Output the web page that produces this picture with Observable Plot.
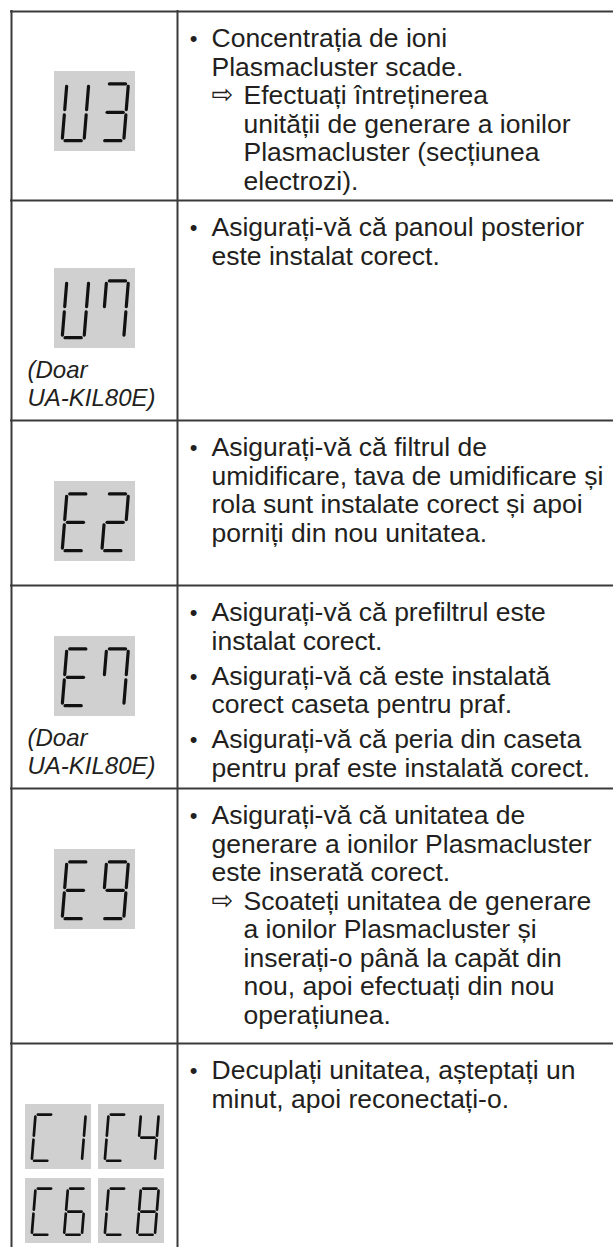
<!DOCTYPE html>
<html><head><meta charset="utf-8">
<script src="https://cdn.jsdelivr.net/npm/d3@7"></script>
<script src="https://cdn.jsdelivr.net/npm/@observablehq/plot@0.6"></script>
<style>html,body{margin:0;padding:0;background:#fff;overflow:hidden}#chart svg{display:block}</style>
</head><body><div id="chart"></div>
<script>
// ---- content ----
const codes = [["U3"], ["U7"], ["E2"], ["E7"], ["E9"], ["C1", "C4", "C6", "C8"]];
const notes = [[], ["(Doar", "UA-KIL80E)"], [], ["(Doar", "UA-KIL80E)"], [], []];
const descriptions = [
  [["•", ["Concentrația de ioni", "Plasmacluster scade."]],
   ["⇨", ["Efectuați întreținerea", "unității de generare a ionilor", "Plasmacluster (secțiunea", "electrozi)."]]],
  [["•", ["Asigurați-vă că panoul posterior", "este instalat corect."]]],
  [["•", ["Asigurați-vă că filtrul de", "umidificare, tava de umidificare și", "rola sunt instalate corect și apoi", "porniți din nou unitatea."]]],
  [["•", ["Asigurați-vă că prefiltrul este", "instalat corect."]],
   ["•", ["Asigurați-vă că este instalată", "corect caseta pentru praf."]],
   ["•", ["Asigurați-vă că peria din caseta", "pentru praf este instalată corect."]]],
  [["•", ["Asigurați-vă că unitatea de", "generare a ionilor Plasmacluster", "este inserată corect."]],
   ["⇨", ["Scoateți unitatea de generare", "a ionilor Plasmacluster și", "inserați-o până la capăt din", "nou, apoi efectuați din nou", "operațiunea."]]],
  [["•", ["Decuplați unitatea, așteptați un", "minut, apoi reconectați-o."]]]
];
// seven-segment glyph encoding
const SEG = {U: "bcdef", "3": "abcdg", "7": "abcf", E: "adefg", "2": "abdeg", "9": "abcdfg",
             C: "adef", "1": "bc", "4": "bcfg", "6": "acdefg", "8": "abcdefg"};

// ---- layout ----
const W = 613, H = 1247;
const tableLeft = 11, colDivider = 177, tableTop = 11;
const rowTop = [11, 200, 420, 585, 788, 1043];
const boxTop = [71, 268, 481, 636, 849, 1104];
const single = {x: 54, w: 81, h: 80};
const quad = {x: [25, 98], yStep: 74, w: 66, h: 65};
const textX = 211, bulletX = 193, arrowTextX = 243, noteX = 27;
const lineH = 28.5, itemGap = 6.5, firstLine = 27.5;

const boxes = [];
codes.forEach((list, i) => {
  if (list.length === 1) boxes.push({code: list[0], x1: single.x, x2: single.x + single.w, y1: boxTop[i], y2: boxTop[i] + single.h});
  else list.forEach((c, k) => {
    const x1 = quad.x[k % 2], y1 = boxTop[i] + Math.floor(k / 2) * quad.yStep;
    boxes.push({code: c, x1, x2: x1 + quad.w, y1, y2: y1 + quad.h});
  });
});

const ENDS = (g, gv) => ({
  a: [[g, 1], [1 - g, 1]], b: [[1, 1 - gv], [1, 0.5 + gv]], c: [[1, 0.5 - gv], [1, gv]],
  d: [[g, 0], [1 - g, 0]], e: [[0, 0.5 - gv], [0, gv]], f: [[0, 1 - gv], [0, 0.5 + gv]],
  g: [[g, 0.5], [1 - g, 0.5]]
});
const ends = ENDS(0.13, 0.045);
const segs = [];
boxes.forEach(b => {
  const bw = b.x2 - b.x1, bh = b.y2 - b.y1;
  const w = 0.27 * bw, h = 0.71 * bh, yb = b.y1 + 0.865 * bh, slant = 0.082;
  [...b.code].forEach((ch, j) => {
    const x0 = b.x1 + (j === 0 ? 0.095 : 0.585) * bw;
    const P = ([u, v]) => [x0 + u * w + v * h * slant, yb - v * h];
    for (const s of SEG[ch]) {
      const [p, q] = ends[s].map(P);
      segs.push({x1: p[0], y1: p[1], x2: q[0], y2: q[1], big: bw > 70});
    }
  });
});

const lines = [], markers = [];
descriptions.forEach((items, i) => {
  let y = rowTop[i] + firstLine;
  items.forEach(([mk, ls], k) => {
    if (k > 0 && mk === "•") y += itemGap;
    markers.push({x: mk === "•" ? bulletX : textX, y, text: mk, kind: mk});
    ls.forEach(t => { lines.push({x: mk === "•" ? textX : arrowTextX, y, text: t}); y += lineH; });
  });
});
const noteLines = [];
notes.forEach((ls, i) => ls.forEach((t, k) => noteLines.push({x: noteX, y: boxTop[i] + single.h + 21.5 + k * 28, text: t})));

const font = "'Liberation Sans', Arial, Helvetica, sans-serif";
const ink = "#231f20", lineCol = "#3a3a3a";

const chart = Plot.plot({
  width: W, height: H, margin: 0,
  x: {domain: [0, W], range: [0, W], axis: null},
  y: {domain: [0, H], range: [0, H], axis: null},
  style: {background: "#fff"},
  marks: [
    Plot.rect(boxes, {x1: "x1", x2: "x2", y1: "y1", y2: "y2", fill: "#d0d0d0"}),
    Plot.link(segs.filter(d => d.big), {x1: "x1", y1: "y1", x2: "x2", y2: "y2", stroke: "#111", strokeWidth: 3.2, strokeLinecap: "round"}),
    Plot.link(segs.filter(d => !d.big), {x1: "x1", y1: "y1", x2: "x2", y2: "y2", stroke: "#111", strokeWidth: 2.7, strokeLinecap: "round"}),
    Plot.ruleY(rowTop, {x1: tableLeft - 1, x2: W, stroke: lineCol, strokeWidth: 2}),
    Plot.ruleX([tableLeft, colDivider], {y1: tableTop - 1, y2: H, stroke: lineCol, strokeWidth: 2}),
    Plot.text(lines, {x: "x", y: "y", text: "text", textAnchor: "start", fontSize: 26.5, fontFamily: font, fill: ink}),
    Plot.text(markers.filter(d => d.kind === "•"), {x: "x", y: "y", text: "text", textAnchor: "middle", fontSize: 22, fontFamily: font, fill: ink}),
    Plot.text(markers.filter(d => d.kind !== "•"), {x: "x", y: "y", text: "text", textAnchor: "start", dy: -1, fontSize: 26, fontFamily: "'DejaVu Sans', sans-serif", fill: ink}),
    Plot.text(noteLines, {x: "x", y: "y", text: "text", textAnchor: "start", fontSize: 24, fontStyle: "italic", fontFamily: font, fill: ink})
  ]
});
document.getElementById("chart").append(chart);
</script>
</body></html>
